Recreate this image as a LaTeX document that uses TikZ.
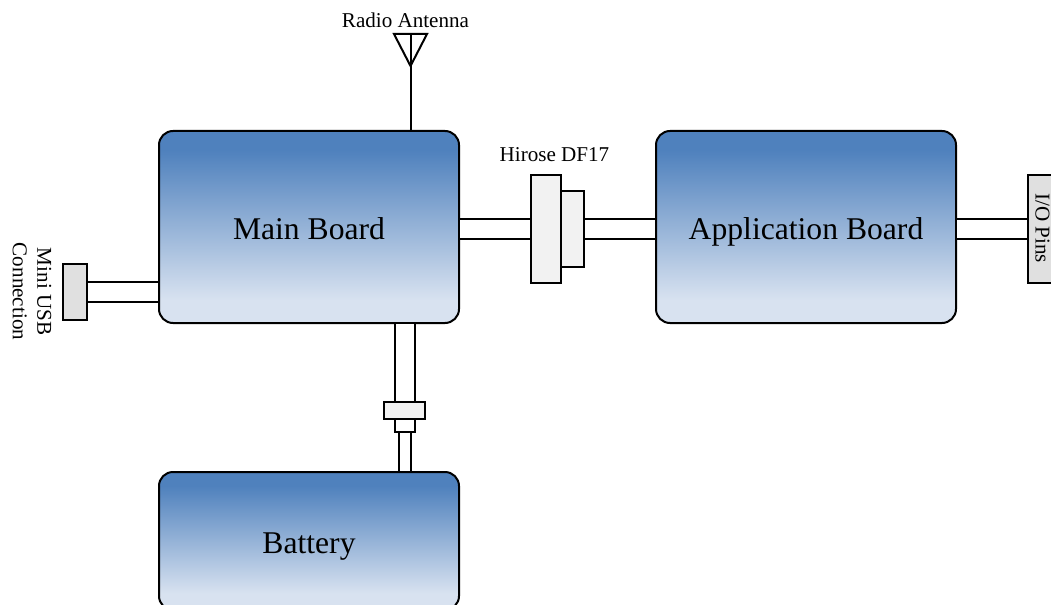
\documentclass[tikz,border=0pt]{standalone}
\usepackage{fontspec}
\setmainfont{Liberation Serif}
\definecolor{boardtop}{HTML}{4F81BD}
\definecolor{boardbottom}{HTML}{D8E2F0}
\definecolor{connlight}{HTML}{F2F2F2}
\definecolor{connhead}{HTML}{E0E0E0}
\pgfdeclareverticalshading{boardfade}{100bp}{color(0bp)=(boardbottom); color(31bp)=(boardbottom); color(70bp)=(boardtop); color(100bp)=(boardtop)}
\tikzset{
  board/.style={rectangle, draw, line width=0.04cm, rounded corners=0.28cm, shade, shading=boardfade, minimum width=6cm, text height=0.48cm, text depth=0cm, font=\fontsize{18}{21}\selectfont},
  conn/.style={rectangle, draw, line width=0.04cm, fill=connlight, inner sep=0pt},
  headconn/.style={conn, fill=connhead},
  cable/.style={line width=0.04cm, double, double distance=0.36cm},
  thincable/.style={line width=0.04cm, double, double distance=0.2cm},
  caption/.style={font=\fontsize{12}{14}\selectfont, align=center, inner sep=0pt}
}
\begin{document}
\begin{tikzpicture}
  \useasboundingbox (0,0) rectangle (21.02,-12.1);

  % Nodes
  \node (mainboard) at (6.18,-4.54) [board, minimum height=3.84cm] {Main Board};
  \node (appboard) at (16.12,-4.54) [board, minimum height=3.84cm] {Application Board};
  \node (battery) at (6.18,-10.82) [board, minimum height=2.76cm] {Battery};

  \node (hirosefront) at (11.45,-4.58) [conn, minimum width=0.46cm, minimum height=1.52cm] {};
  \node (hiroseback) at (10.92,-4.58) [conn, minimum width=0.6cm, minimum height=2.16cm] {};
  \node (usb) at (1.5,-5.84) [headconn, minimum width=0.47cm, minimum height=1.12cm] {};
  \node (iopins) at (20.86,-4.58) [headconn, minimum width=0.6cm, minimum height=2.16cm] {};
  \node (battneck) at (8.09,-8.5) [conn, fill=white, minimum width=0.4cm, minimum height=0.26cm] {};
  \node (battplug) at (8.09,-8.21) [conn, minimum width=0.82cm, minimum height=0.34cm] {};

  \node (antennalabel) at (8.11,-0.4) [caption] {Radio Antenna};
  \node (hiroselabel) at (11.09,-3.1) [caption] {Hirose DF17};
  \node (usblabel) at (0.64,-5.83) [caption, rotate=-90] {Mini USB\\Connection};
  \node (iolabel) at (20.85,-4.56) [caption, rotate=-90] {I/O Pins};

  \coordinate (antennatop) at (8.21,-0.68);
  \coordinate (antennaleft) at (7.88,-0.68);
  \coordinate (antennaright) at (8.54,-0.68);
  \coordinate (antennatip) at (8.21,-1.32);

  % Edges
  \draw[line width=0.04cm] (antennaleft) -- (antennaright) -- (antennatip) -- cycle;
  \draw[line width=0.04cm] (antennatop) -- (mainboard.north -| antennatop);

  \draw[cable] (mainboard.east |- hiroseback.west) -- (hiroseback.west);
  \draw[cable] (hirosefront.east) -- (appboard.west |- hirosefront.east);
  \draw[cable] (appboard.east |- iopins.west) -- (iopins.west);
  \draw[cable] (usb.east) -- (mainboard.west |- usb.east);
  \draw[cable] (mainboard.south -| battplug.north) -- (battplug.north);
  \draw[thincable] (battneck.south) -- (battery.north -| battneck.south);
\end{tikzpicture}
\end{document}
